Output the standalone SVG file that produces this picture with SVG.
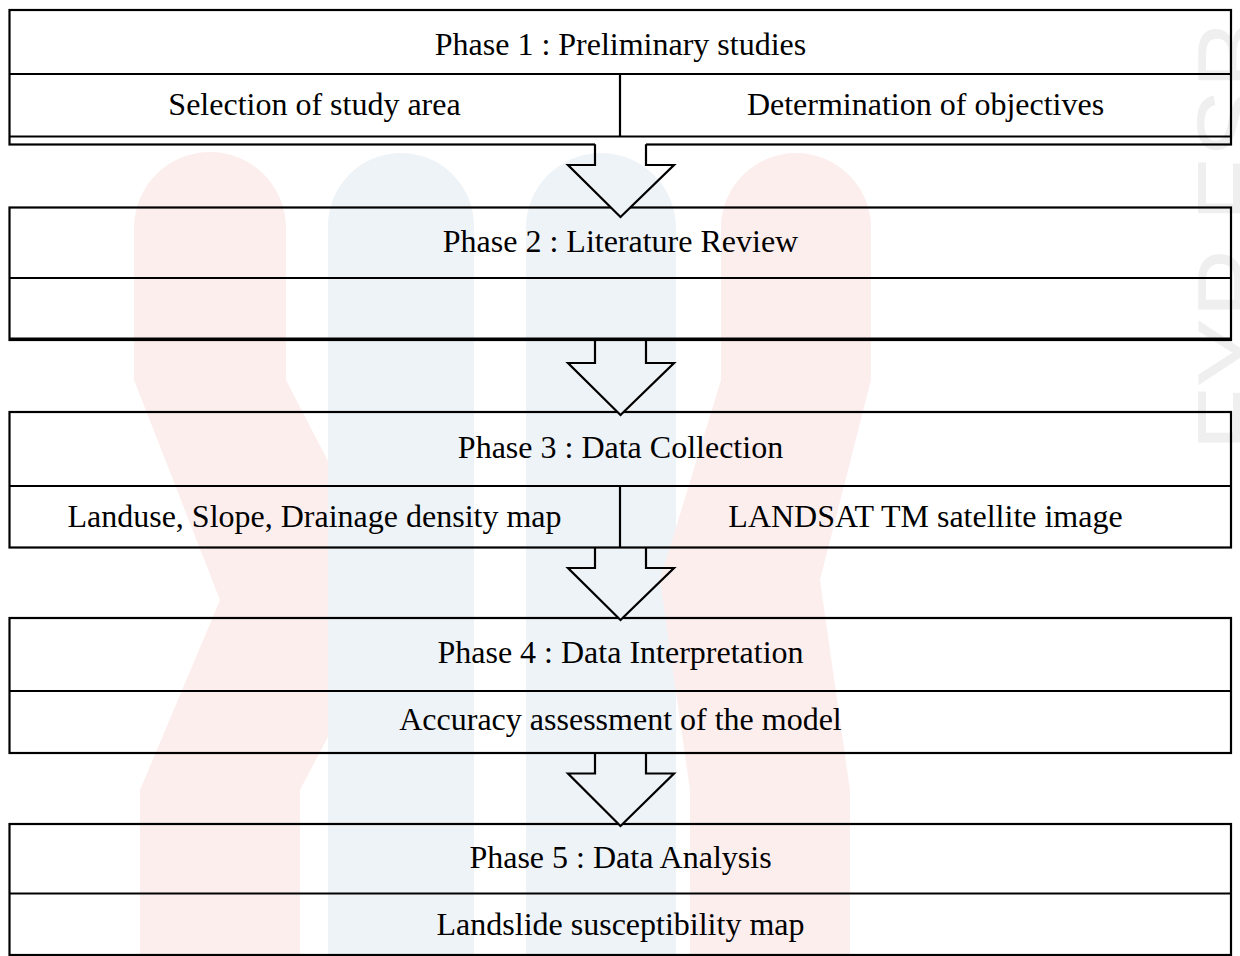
<svg xmlns="http://www.w3.org/2000/svg" width="1240" height="956" viewBox="0 0 1240 956">
<style>
.box{fill:none;stroke:#000;stroke-width:2.2}
.ln{stroke:#000;stroke-width:2.2;fill:none}
.t{font-family:"Liberation Serif","Times New Roman",serif;font-size:32px;fill:#000;text-anchor:middle}
.af{fill:#fff;stroke:none}
.ao{fill:none;stroke:#000;stroke-width:2.2;stroke-linejoin:miter}
.pink{fill:#fdeeee}
.blue{fill:#eef3f8}
</style>
<rect x="0" y="0" width="1240" height="956" fill="#fff"/>

<g id="phase1">
<rect class="box" x="9.5" y="10" width="1221.5" height="134.5"/>
<line class="ln" x1="9.5" y1="74" x2="1231" y2="74"/>
<line class="ln" x1="9.5" y1="136.5" x2="1231" y2="136.5"/>
<line class="ln" x1="620" y1="74" x2="620" y2="136.5"/>
<text class="t" x="620.5" y="55">Phase 1 : Preliminary studies</text>
<text class="t" x="314.5" y="115">Selection of study area</text>
<text class="t" x="925.5" y="115">Determination of objectives</text>
</g>

<g id="phase2">
<rect class="box" x="9.5" y="207.5" width="1221.5" height="132.5"/>
<line class="ln" x1="9.5" y1="278" x2="1231" y2="278"/>
<line class="ln" x1="9.5" y1="338.5" x2="1231" y2="338.5"/>
<text class="t" x="620.5" y="252">Phase 2 : Literature Review</text>
</g>

<g id="phase3">
<rect class="box" x="9.5" y="412" width="1221.5" height="135.5"/>
<line class="ln" x1="9.5" y1="486" x2="1231" y2="486"/>
<line class="ln" x1="620" y1="486" x2="620" y2="547.5"/>
<text class="t" x="620.5" y="458">Phase 3 : Data Collection</text>
<text class="t" x="314.5" y="527">Landuse, Slope, Drainage density map</text>
<text class="t" x="925.5" y="527">LANDSAT TM satellite image</text>
</g>

<g id="phase4">
<rect class="box" x="9.5" y="618" width="1221.5" height="135"/>
<line class="ln" x1="9.5" y1="691" x2="1231" y2="691"/>
<text class="t" x="620.5" y="663">Phase 4 : Data Interpretation</text>
<text class="t" x="620.5" y="730">Accuracy assessment of the model</text>
</g>

<g id="phase5">
<rect class="box" x="9.5" y="824" width="1221.5" height="131"/>
<line class="ln" x1="9.5" y1="893.5" x2="1231" y2="893.5"/>
<text class="t" x="620.5" y="868">Phase 5 : Data Analysis</text>
<text class="t" x="620.5" y="935">Landslide susceptibility map</text>
</g>

<g id="connectors">
<polygon class="af" points="595,139 646,139 646,165 674,165 620.5,217 568,165 595,165"/>
<polyline class="ao" points="595,144.3 595,165 568,165 620.5,217 674,165 646,165 646,144.3"/>
<polygon class="af" points="595,342 646,342 646,363 674,363 620.5,415 568,363 595,363"/>
<polyline class="ao" points="595,341 595,363 568,363 620.5,415 674,363 646,363 646,341"/>
<polygon class="af" points="595,549 646,549 646,568 674,568 620.5,620 568,568 595,568"/>
<polyline class="ao" points="595,547.5 595,568 568,568 620.5,620 674,568 646,568 646,547.5"/>
<polygon class="af" points="595,755 646,755 646,773.5 674,773.5 620.5,826 568,773.5 595,773.5"/>
<polyline class="ao" points="595,753 595,773.5 568,773.5 620.5,826 674,773.5 646,773.5 646,753"/>
</g>

<g id="watermark" style="mix-blend-mode:multiply">
<path class="pink" d="M134,228 A76,76 0 0 1 286,228 L286,380 L400,600 L300,790 L300,956 L140,956 L140,790 L220,600 L134,380 Z"/>
<path class="blue" d="M328,226 A73,73 0 0 1 474,226 L474,956 L328,956 Z"/>
<path class="blue" d="M526,228 A75,75 0 0 1 676,228 L676,956 L526,956 Z"/>
<path class="pink" d="M721,228 A75,75 0 0 1 871,228 L871,380 L820,580 L850,790 L850,956 L690,956 L690,790 L660,580 L721,380 Z"/>
<text x="0" y="0" transform="translate(1270,451) rotate(-90)" style="font-family:'Liberation Sans',Arial,sans-serif;font-size:104px;fill:#efefef">FYP FSB</text>
</g>
</svg>
